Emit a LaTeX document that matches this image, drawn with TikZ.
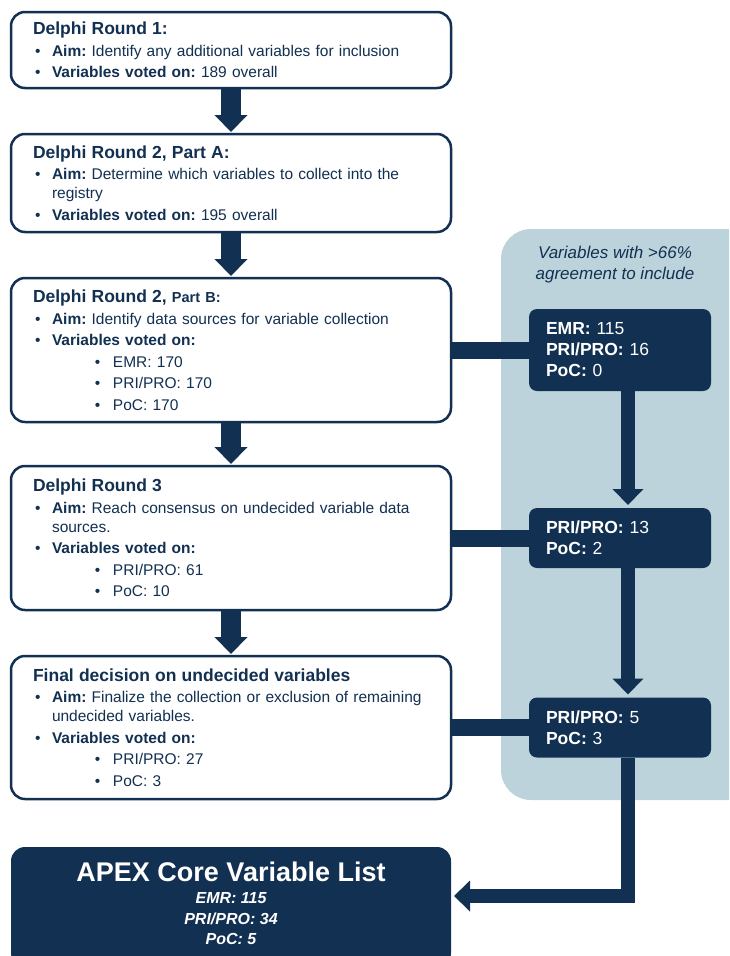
\documentclass[tikz,border=0pt]{standalone}
\usepackage{fontspec}
\setmainfont{Liberation Sans}
\usetikzlibrary{arrows.meta, positioning}
\definecolor{navy}{RGB}{18,48,82}
\definecolor{panelblue}{RGB}{189,211,219}
\setlength{\parindent}{0pt}
\frenchspacing
\newcommand{\bodysize}{\fontsize{15.5}{19}\selectfont}
\newcommand{\stagetitle}[1]{{\fontsize{17.5}{20}\selectfont\bfseries #1}}
\newcommand{\bitem}[1]{\par\hangindent=19pt\hangafter=1\leavevmode\hbox to 19pt{\hspace{2pt}\textbullet\hfil}#1}
\newcommand{\sitem}[1]{\par\hangindent=80pt\hangafter=1\leavevmode\hbox to 80pt{\hspace{62pt}\textbullet\hfil}#1}
\tikzstyle{stagebox} = [
  rectangle,
  rounded corners=14pt,
  draw=navy,
  line width=2.5pt,
  fill=white,
  outer sep=0pt,
  minimum width=440pt,
  text width=396pt,
  inner xsep=22pt,
  align=left,
  text=navy,
  font=\bodysize\setlength{\parskip}{2.5pt}
]
\tikzstyle{keepbox} = [
  rectangle,
  rounded corners=8pt,
  fill=navy,
  outer sep=0pt,
  minimum width=182pt,
  text width=148pt,
  inner xsep=17pt,
  align=left,
  text=white,
  font=\fontsize{17.5}{21}\selectfont
]
\tikzstyle{corebox} = [
  rectangle,
  rounded corners=14pt,
  fill=navy,
  outer sep=0pt,
  minimum width=440pt,
  minimum height=120pt,
  align=center,
  text=white,
  font=\fontsize{16}{20.5}\selectfont\bfseries\itshape
]
\tikzstyle{flowarrow} = [line width=20pt, draw=navy, -{Triangle[width=32pt, length=17pt]}, shorten >=2pt]
\tikzstyle{sidearrow} = [line width=14pt, draw=navy, -{Triangle[width=30pt, length=16pt]}, shorten >=3pt]
\tikzstyle{joinbar} = [line width=17pt, draw=navy]

\begin{document}
\begin{tikzpicture}[x=1pt, y=-1pt, node distance=46pt]
    \useasboundingbox (0,0) rectangle (729,956);
    \clip (0,0) rectangle (729,956);

    % agreement panel behind the right column
    \node (panel) [rectangle, rounded corners=30pt, fill=panelblue, minimum width=279pt, minimum height=571pt] at (640.5,514.5) {};
    \node (panelnote) [text=navy, align=center, font=\fontsize{17}{21}\selectfont\itshape] at (615,265) {Variables with >66\%\\agreement to include};

    \node (round1) [stagebox, minimum height=76pt] at (231,50) {\stagetitle{Delphi Round 1:}
      \bitem{\textbf{Aim:} Identify any additional variables for inclusion}
      \bitem{\textbf{Variables voted on:} 189 overall}};
    \node (round2a) [stagebox, minimum height=98pt, below=of round1] {\stagetitle{Delphi Round 2, Part A:}
      \bitem{\textbf{Aim:} Determine which variables to collect into the\newline registry}
      \bitem{\textbf{Variables voted on:} 195 overall}};
    \node (round2b) [stagebox, minimum height=144pt, below=of round2a] {\stagetitle{Delphi Round 2, {\fontsize{14.5}{18}\selectfont Part B:}}
      \bitem{\textbf{Aim:} Identify data sources for variable collection}
      \bitem{\textbf{Variables voted on:}}
      \sitem{EMR: 170}
      \sitem{PRI/PRO: 170}
      \sitem{PoC: 170}};
    \node (round3) [stagebox, minimum height=144pt, below=44pt of round2b] {\stagetitle{Delphi Round 3}
      \bitem{\textbf{Aim:} Reach consensus on undecided variable data\newline sources.}
      \bitem{\textbf{Variables voted on:}}
      \sitem{PRI/PRO: 61}
      \sitem{PoC: 10}};
    \node (finalround) [stagebox, minimum height=143pt, below=of round3] {\stagetitle{Final decision on undecided variables}
      \bitem{\textbf{Aim:} Finalize the collection or exclusion of remaining\newline undecided variables.}
      \bitem{\textbf{Variables voted on:}}
      \sitem{PRI/PRO: 27}
      \sitem{PoC: 3}};
    \node (corelist) [corebox, below=48pt of finalround] {{\fontsize{27}{30}\selectfont\upshape APEX Core Variable List}\\[2pt]EMR: 115\\PRI/PRO: 34\\PoC: 5\rule[-8pt]{0pt}{8pt}};

    \node (keepemr) [keepbox, minimum height=82pt, right=78pt of round2b] {\textbf{EMR:} 115\\\textbf{PRI/PRO:} 16\\\textbf{PoC:} 0};
    \node (keep3) [keepbox, minimum height=60pt, right=78pt of round3] {\textbf{PRI/PRO:} 13\\\textbf{PoC:} 2};
    \node (keepfinal) [keepbox, minimum height=60pt, right=78pt of finalround] {\textbf{PRI/PRO:} 5\\\textbf{PoC:} 3};

    \draw [flowarrow] (round1) -- (round2a);
    \draw [flowarrow] (round2a) -- (round2b);
    \draw [flowarrow] (round2b) -- (round3);
    \draw [flowarrow] (round3) -- (finalround);

    \draw [joinbar] (round2b) -- (keepemr);
    \draw [joinbar] (round3) -- (keep3);
    \draw [joinbar] (finalround) -- (keepfinal);

    \draw [sidearrow] ([xshift=8pt]keepemr.south) -- ([xshift=8pt]keep3.north);
    \draw [sidearrow] ([xshift=8pt]keep3.south) -- ([xshift=8pt]keepfinal.north);
    \draw [sidearrow] ([xshift=8pt]keepfinal.south) |- ([yshift=11pt]corelist.east);
  \end{tikzpicture}
\end{document}
